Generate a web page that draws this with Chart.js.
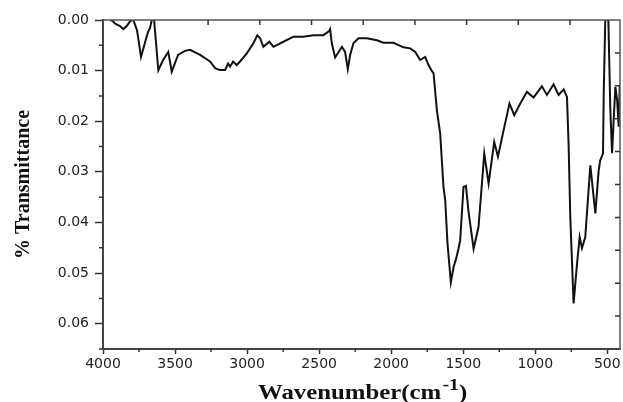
<!DOCTYPE html>
<html>
<head>
<meta charset="utf-8">
<script src="https://cdn.jsdelivr.net/npm/chart.js@4.4.1/dist/chart.umd.min.js"></script>
<style>
html,body{margin:0;padding:0;background:#fff;}
#wrap{width:623px;height:402px;}
</style>
</head>
<body>
<div id="wrap"><canvas id="c" width="623" height="402"></canvas></div>
<script>
// Wavenumber (cm^-1) and % transmittance
const wavenumbers = [
  3951,3931,3917,3882,3859,3835,3813,3792,3764,3736,
  3708,3688,3674,3660,3646,3616,3583,3547,3523,3479,
  3431,3396,3326,3257,3222,3188,3153,3132,3118,3097,
  3072,3049,3002,2956,2929,2910,2887,2845,2817,2748,
  2679,2609,2540,2470,2431,2424,2412,2389,2342,2320,
  2301,2285,2262,2227,2169,2099,2054,1984,1915,1868,
  1833,1799,1764,1741,1717,1706,1683,1660,1637,1625,
  1609,1586,1567,1549,1533,1521,1498,1481,1463,1428,
  1394,1354,1324,1285,1259,1220,1179,1146,1104,1058,
  1012,954,919,873,838,803,780,769,757,734,
  710,692,676,653,618,583,560,549,530,525,
  514,504,493,479,467,456,444,432,421,414
];
const transmittance = [
  0.0000,0.0002,0.0007,0.0012,0.0018,0.0012,0.0003,-0.0002,0.0020,0.0073,
  0.0044,0.0024,0.0016,-0.0002,-0.0002,0.0099,0.0079,0.0063,0.0102,0.0069,
  0.0061,0.0059,0.0069,0.0082,0.0095,0.0099,0.0099,0.0086,0.0092,0.0082,
  0.0089,0.0082,0.0066,0.0046,0.0030,0.0036,0.0053,0.0043,0.0053,0.0043,
  0.0033,0.0033,0.0030,0.0030,0.0022,0.0018,0.0046,0.0074,0.0053,0.0063,
  0.0097,0.0069,0.0046,0.0036,0.0036,0.0040,0.0045,0.0045,0.0054,0.0056,
  0.0063,0.0079,0.0073,0.0089,0.0101,0.0105,0.0178,0.0224,0.0330,0.0356,
  0.0442,0.0518,0.0488,0.0471,0.0452,0.0435,0.0330,0.0328,0.0379,0.0452,
  0.0409,0.0264,0.0323,0.0241,0.0270,0.0218,0.0165,0.0188,0.0165,0.0142,
  0.0153,0.0131,0.0148,0.0127,0.0148,0.0137,0.0152,0.0243,0.0389,0.0560,
  0.0481,0.0429,0.0451,0.0429,0.0287,0.0382,0.0297,0.0277,0.0264,0.0144,
  -0.0002,-0.0010,-0.0002,0.0178,0.0263,0.0198,0.0132,0.0158,0.0211,0.0130
];
const xTickLabels = [4000,3500,3000,2500,2000,1500,1000,500];
const xMinorTicks = [3750,3250,2750,2250,1750,1250,750];
const yTickLabels = [0.00,0.01,0.02,0.03,0.04,0.05,0.06];
const yMinorTicks = [0.005,0.015,0.025,0.035,0.045,0.055,0.065];
const topTicks = [2,3,4,5,6,7,8,9];
const rightTicks = [1,2,3,4,5,6,7,8,9];
const xTitle = "Wavenumber(cm";
const xTitleSup = "-1";
const yTitle = "% Transmittance";

const points = wavenumbers.map((w, i) => ({x: w, y: transmittance[i]}));

const framePlugin = {
  id: 'frame',
  afterDraw(chart) {
    const ctx = chart.ctx;
    const a = chart.chartArea;
    const sx = chart.scales.x, sy = chart.scales.y;
    const st = chart.scales.xTop, sr = chart.scales.yRight;
    ctx.save();
    ctx.strokeStyle = '#555';
    ctx.lineWidth = 1.5;
    ctx.beginPath();
    ctx.moveTo(a.left, a.top); ctx.lineTo(a.right, a.top); ctx.lineTo(a.right, a.bottom);
    ctx.stroke();
    ctx.strokeStyle = '#333';
    ctx.lineWidth = 1.5;
    ctx.beginPath();
    xMinorTicks.forEach(v => { const p = sx.getPixelForValue(v); ctx.moveTo(p, a.bottom); ctx.lineTo(p, a.bottom + 3); });
    yMinorTicks.forEach(v => { const p = sy.getPixelForValue(v); ctx.moveTo(a.left, p); ctx.lineTo(a.left - 4, p); });
    topTicks.forEach(v => { const p = st.getPixelForValue(v); ctx.moveTo(p, a.top); ctx.lineTo(p, a.top + 5); });
    rightTicks.forEach(v => { const p = sr.getPixelForValue(v); ctx.moveTo(a.right, p); ctx.lineTo(a.right - 5, p); });
    ctx.stroke();
    ctx.fillStyle = '#111';
    ctx.textBaseline = 'alphabetic';
    ctx.textAlign = 'left';
    ctx.translate(258, 399);
    ctx.scale(1.24, 1);
    ctx.font = 'bold 20px "Liberation Serif"';
    ctx.fillText(xTitle, 0, 0);
    let w = ctx.measureText(xTitle).width;
    ctx.font = 'bold 16px "Liberation Serif"';
    ctx.fillText(xTitleSup, w + 1, -9);
    w += 1 + ctx.measureText(xTitleSup).width;
    ctx.font = 'bold 20px "Liberation Serif"';
    ctx.fillText(')', w, 0);
    ctx.restore();
  }
};

new Chart(document.getElementById('c'), {
  type: 'line',
  data: {
    datasets: [{
      data: points,
      borderColor: '#111',
      borderWidth: 2,
      pointRadius: 0,
      tension: 0,
      fill: false
    }]
  },
  options: {
    responsive: false,
    animation: false,
    devicePixelRatio: 1,
    layout: { padding: { left: 0, top: 20, right: 3, bottom: 0 } },
    plugins: { legend: { display: false }, tooltip: { enabled: false } },
    scales: {
      x: {
        type: 'linear',
        position: 'bottom',
        reverse: true,
        min: 412,
        max: 4000,
        afterBuildTicks: s => { s.ticks = xTickLabels.map(v => ({value: v})); },
        afterFit: s => { s.height = 53; },
        ticks: {
          callback: v => String(v),
          color: '#222',
          font: { family: '"DejaVu Sans"', size: 14 },
          padding: 2,
          maxRotation: 0,
          autoSkip: false
        },
        grid: { display: true, drawOnChartArea: false, drawTicks: true, tickLength: 5, tickColor: '#333', tickWidth: 1.5 },
        border: { display: true, color: '#444', width: 2 }
      },
      y: {
        type: 'linear',
        position: 'left',
        reverse: true,
        min: 0,
        max: 0.065,
        afterBuildTicks: s => { s.ticks = yTickLabels.map(v => ({value: v})); },
        afterFit: s => { s.width = 103; },
        ticks: {
          callback: v => Number(v).toFixed(2),
          color: '#222',
          font: { family: '"DejaVu Sans"', size: 14 },
          padding: 6,
          autoSkip: false
        },
        title: {
          display: true,
          text: yTitle,
          color: '#111',
          font: { family: '"Liberation Serif"', size: 20, weight: 'bold' },
          padding: { top: 12, bottom: 0 }
        },
        grid: { display: true, drawOnChartArea: false, drawTicks: true, tickLength: 8, tickColor: '#333', tickWidth: 1.5 },
        border: { display: true, color: '#444', width: 2 }
      },
      xTop: {
        type: 'linear',
        position: 'top',
        display: false,
        min: -0.033,
        max: 9.967
      },
      yRight: {
        type: 'linear',
        position: 'right',
        display: false,
        min: 0,
        max: 10
      }
    }
  },
  plugins: [framePlugin]
});
</script>
</body>
</html>
